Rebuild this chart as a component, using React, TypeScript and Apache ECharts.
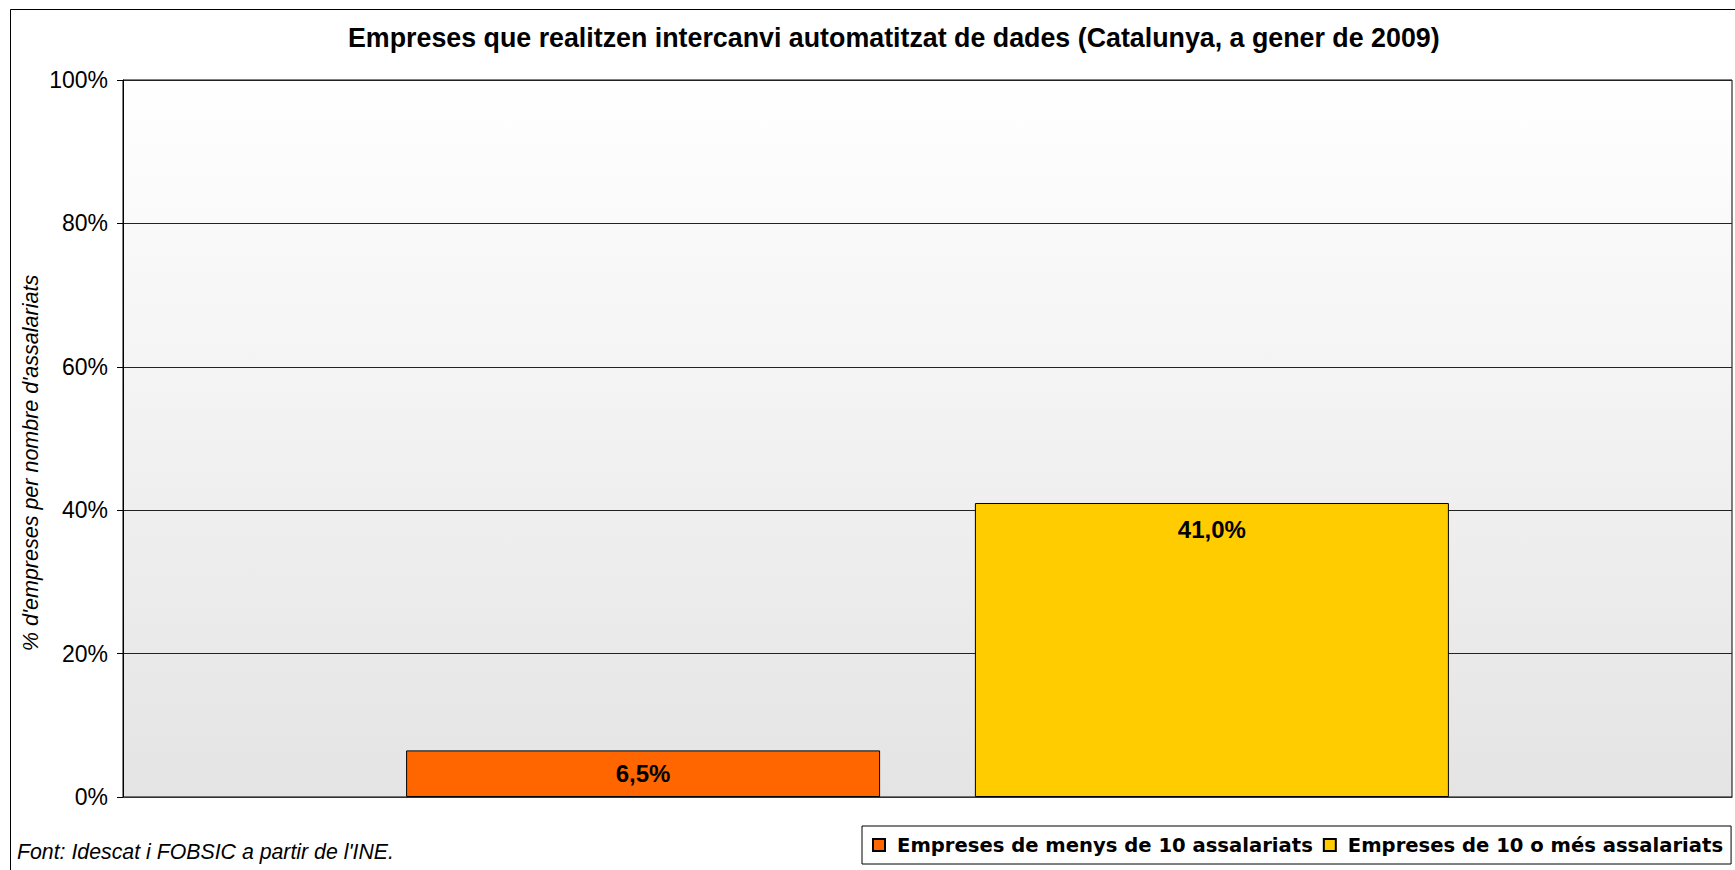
import React, { useEffect, useRef } from "react";
import * as echarts from "echarts";

const titleText =
  "Empreses que realitzen intercanvi automatitzat de dades (Catalunya, a gener de 2009)";
const yAxisTitle = "% d'empreses per nombre d'assalariats";
const sourceNote = "Font: Idescat i FOBSIC a partir de l'INE.";
const categories = ["Catalunya"];
const seriesNames = [
  "Empreses de menys de 10 assalariats",
  "Empreses de 10 o més assalariats",
];
const seriesValues = [6.5, 41.0];
const seriesColors = ["#FF6600", "#FFCC00"];
const labelPositions = ["inside", "insideTop"];

const fmt = (v: number) => v.toFixed(1).replace(".", ",") + "%";

export default function App() {
  const ref = useRef<HTMLDivElement>(null);
  useEffect(() => {
    if (!ref.current) return;
    const chart = echarts.init(ref.current, null, { renderer: "svg" });
    const font = "'Liberation Sans', Arial, sans-serif";
    chart.setOption({
      animation: false,
      backgroundColor: "#ffffff",
      title: {
        text: titleText,
        left: 348,
        top: 24,
        padding: 0,
        textStyle: {
          fontFamily: font,
          fontSize: 26.8,
          fontWeight: "bold",
          color: "#000",
        },
      },
      graphic: [
        {
          type: "rect",
          shape: { x: 10.5, y: 9.5, width: 1760, height: 900 },
          style: { fill: "none", stroke: "#000", lineWidth: 1 },
          silent: true,
          z: 100,
        },
        {
          type: "text",
          x: 31,
          y: 463,
          rotation: Math.PI / 2,
          style: {
            text: yAxisTitle,
            fontFamily: font,
            fontSize: 21.5,
            fontStyle: "italic",
            fill: "#000",
            align: "center",
            verticalAlign: "middle",
          },
        },
        {
          type: "text",
          x: 17,
          y: 852,
          style: {
            text: sourceNote,
            fontFamily: font,
            fontSize: 21.3,
            fontStyle: "italic",
            fill: "#000",
            align: "left",
            verticalAlign: "middle",
          },
        },
      ],
      legend: {
        data: seriesNames,
        left: 862,
        top: 826,
        width: 1000,
        orient: "horizontal",
        borderColor: "#000",
        borderWidth: 1,
        padding: [9, 8, 9, 10],
        itemWidth: 12,
        itemHeight: 12,
        itemGap: 10,
        icon: "rect",
        textStyle: {
          fontFamily: "'DejaVu Sans', sans-serif",
          fontSize: 19.6,
          fontWeight: "bold",
          color: "#000",
          lineHeight: 12,
          padding: [0, 0, 0, 7],
        },
      },
      grid: {
        left: 123,
        top: 80,
        right: 3,
        bottom: 73,
        show: true,
        borderColor: "#000",
        borderWidth: 1,
        backgroundColor: new echarts.graphic.LinearGradient(0, 0, 0, 1, [
          { offset: 0, color: "#ffffff" },
          { offset: 1, color: "#e4e4e4" },
        ]),
      },
      xAxis: {
        type: "category",
        data: categories,
        axisLine: { show: true, lineStyle: { color: "#333", width: 1 } },
        axisTick: { show: false },
        axisLabel: { show: false },
      },
      yAxis: {
        type: "value",
        min: 0,
        max: 100,
        interval: 20,
        axisLine: { show: true, lineStyle: { color: "#000", width: 1 } },
        axisTick: {
          show: true,
          length: 6,
          lineStyle: { color: "#000", width: 1 },
        },
        splitLine: { show: true, lineStyle: { color: "#222", width: 1 } },
        axisLabel: {
          formatter: "{value}%",
          fontFamily: font,
          fontSize: 23,
          color: "#000",
          margin: 15,
        },
      },
      series: seriesNames.map((name, i) => ({
        name,
        type: "bar",
        data: [seriesValues[i]],
        barWidth: 474,
        barGap: "20%",
        itemStyle: {
          color: seriesColors[i],
          borderColor: "#000",
          borderWidth: 1,
        },
        label: {
          show: true,
          position: labelPositions[i],
          distance: 14,
          formatter: (p: any) => fmt(p.value),
          fontFamily: font,
          fontSize: 24,
          fontWeight: "bold",
          color: "#000",
        },
      })),
    });
    return () => chart.dispose();
  }, []);
  return (
    <div
      ref={ref}
      style={{ position: "fixed", left: 0, top: 0, width: 1735, height: 870 }}
    />
  );
}
